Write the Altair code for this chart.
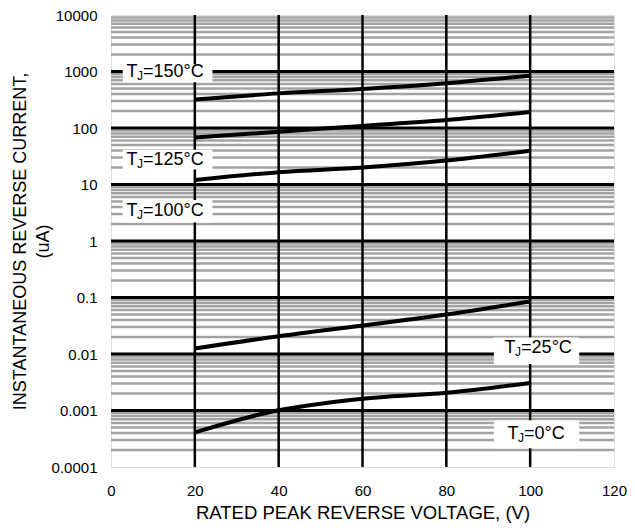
import altair as alt
import pandas as pd

FONT = "Liberation Sans"

# ---- data ----
volts = [20, 40, 60, 80, 100]
i150 = [320, 410, 490, 620, 845]
i125 = [68, 86, 109, 138, 192]
i100 = [12, 16.5, 20, 26.5, 39.5]
i25 = [0.0125, 0.0207, 0.032, 0.05, 0.085]
volts0 = [20, 40, 50, 60, 80, 100]
i0 = [0.00041, 0.00101, 0.00132, 0.00161, 0.00206, 0.00308]

x_ticks = [0, 20, 40, 60, 80, 100, 120]
y_ticks = [0.0001, 0.001, 0.01, 0.1, 1, 10, 100, 1000, 10000]

# annotation labels (temperature), box extents and text anchor
lab_num = ["150", "125", "100", "25", "0"]
lab_x = [3.7, 3.7, 3.7, 93.9, 94.6]
lab_y = [966, 26.7, 3.33, 0.0130, 0.000378]
box_x1 = [2.8, 2.8, 2.8, 91.35, 91.35]
box_x2 = [24.2, 24.2, 24.2, 111.7, 111.7]
box_y1 = [646, 18.4, 2.13, 0.00662, 0.000215]
box_y2 = [1334, 41.1, 5.33, 0.0196, 0.000673]

# ---- tables ----
rows = []
for name, xs, ys in [("150", volts, i150), ("125", volts, i125), ("100", volts, i100),
                     ("25", volts, i25), ("0", volts0, i0)]:
    for x, y in zip(xs, ys):
        rows.append({"series": name, "V": x, "I": y})
curves = pd.DataFrame(rows)

minor = pd.DataFrame({"y": [m * 10.0 ** d for d in range(-4, 4) for m in range(2, 10)]})
major_h = pd.DataFrame({"y": y_ticks[1:-1]})
major_v = pd.DataFrame({"x": x_ticks[1:-1]})

labels = pd.DataFrame({
    "num": lab_num, "lx": lab_x, "ly": lab_y,
    "x1": box_x1, "x2": box_x2, "y1": box_y1, "y2": box_y2,
})
labels["rest"] = "=" + labels["num"] + "°C"

xscale = alt.Scale(domain=[0, 120], nice=False, zero=False)
yscale = alt.Scale(type="log", domain=[0.0001, 10000], nice=False)

x_axis = alt.Axis(values=x_ticks, grid=False, ticks=False, domain=False,
                  labelFlush=False,
                  labelFont=FONT, labelFontSize=15, labelColor="black",
                  labelPadding=23, labelBaseline="middle",
                  title="RATED PEAK REVERSE VOLTAGE, (V)", titleFont=FONT,
                  titleFontSize=18.5, titleFontWeight="normal", titleColor="black",
                  titleBaseline="middle", titleY=45)
y_axis = alt.Axis(values=y_ticks, grid=False, ticks=False, domain=False,
                  labelFlush=False,
                  format="~g", labelFont=FONT, labelFontSize=15, labelColor="black",
                  labelPadding=14,
                  title=["INSTANTANEOUS REVERSE CURRENT,", "(uA)"], titleFont=FONT,
                  titleFontSize=18, titleFontWeight="normal", titleColor="black",
                  titleLineHeight=23, titleX=-82)

minor_layer = alt.Chart(minor).mark_rule(color="#a3a3a3", strokeWidth=2.5).encode(
    y=alt.Y("y:Q", scale=yscale, axis=y_axis)
)
major_h_layer = alt.Chart(major_h).mark_rule(color="black", strokeWidth=3).encode(
    y=alt.Y("y:Q", scale=yscale)
)
major_v_layer = alt.Chart(major_v).mark_rule(color="black", strokeWidth=2.5).encode(
    x=alt.X("x:Q", scale=xscale, axis=x_axis)
)
curve_layer = alt.Chart(curves).mark_line(color="black", strokeWidth=4,
                                          interpolate="monotone").encode(
    x=alt.X("V:Q", scale=xscale),
    y=alt.Y("I:Q", scale=yscale),
    detail="series:N",
)
box_layer = alt.Chart(labels).mark_rect(color="white").encode(
    x=alt.X("x1:Q", scale=xscale), x2="x2:Q",
    y=alt.Y("y1:Q", scale=yscale), y2="y2:Q",
)
t_layer = alt.Chart(labels).mark_text(font=FONT, fontSize=18, align="left",
                                      baseline="middle", color="black").encode(
    x=alt.X("lx:Q", scale=xscale), y=alt.Y("ly:Q", scale=yscale), text=alt.value("T")
)
j_layer = alt.Chart(labels).mark_text(font=FONT, fontSize=12, align="left",
                                      baseline="middle", color="black",
                                      dx=10.5, dy=4).encode(
    x=alt.X("lx:Q", scale=xscale), y=alt.Y("ly:Q", scale=yscale), text=alt.value("J")
)
rest_layer = alt.Chart(labels).mark_text(font=FONT, fontSize=18, align="left",
                                         baseline="middle", color="black",
                                         dx=16.5).encode(
    x=alt.X("lx:Q", scale=xscale), y=alt.Y("ly:Q", scale=yscale), text="rest:N"
)

chart = alt.layer(
    minor_layer, major_h_layer, major_v_layer, curve_layer,
    box_layer, t_layer, j_layer, rest_layer
).properties(
    width=503, height=452,
    padding={"left": 103, "top": 7, "right": 13, "bottom": 56},
    autosize=alt.AutoSizeParams(type="none"),
).configure_view(
    stroke="black", strokeWidth=3
).configure(background="white")

chart.save("out.html", embed_options={"renderer": "svg", "actions": False})
